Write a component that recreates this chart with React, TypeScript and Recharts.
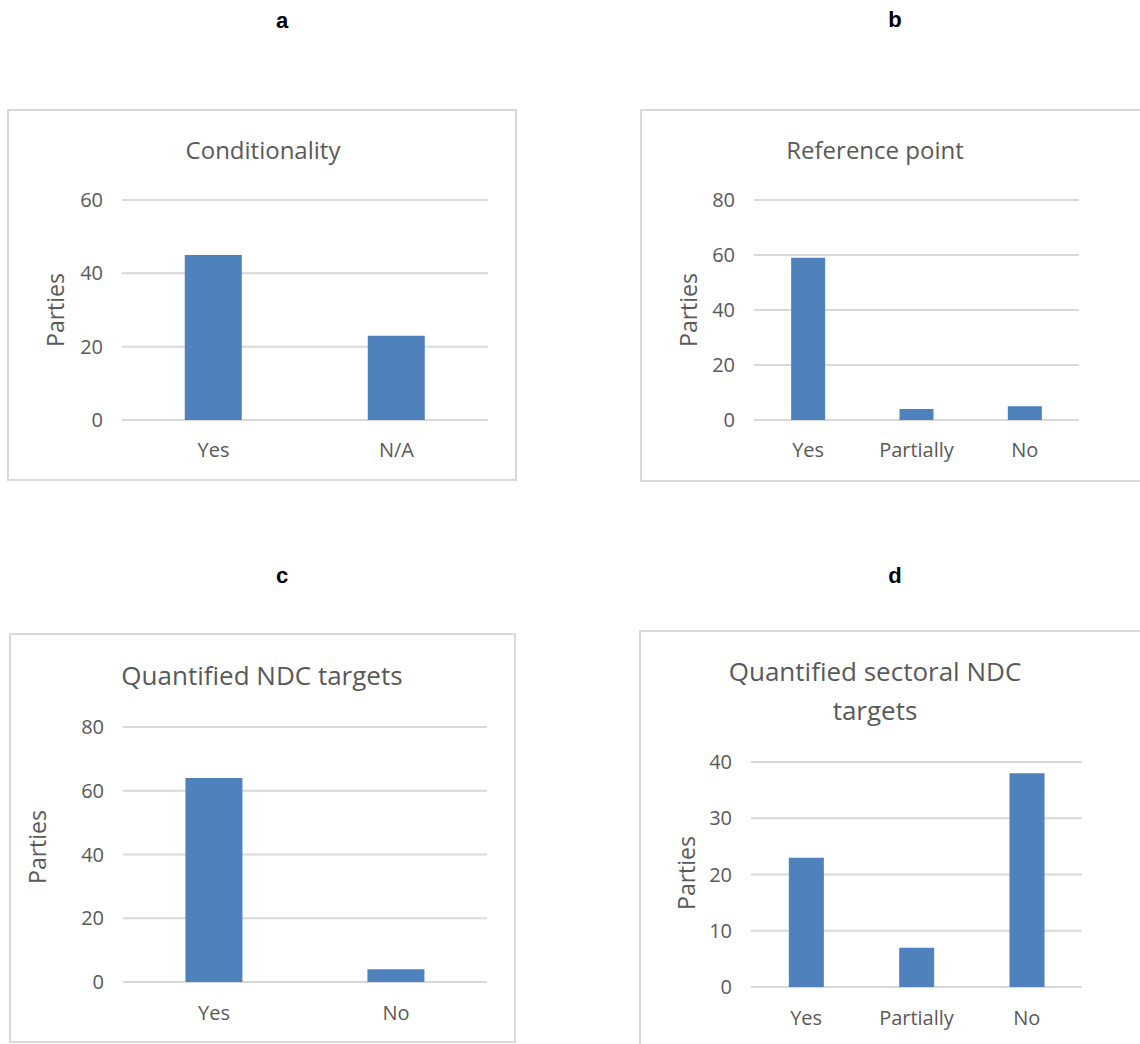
import React from "react";
import { BarChart, Bar, XAxis, YAxis, CartesianGrid } from "recharts";

// panel a
const condCats = ["Yes", "N/A"];
const condVals = [45, 23];
const condTicks = [0, 20, 40, 60];

// panel b
const refCats = ["Yes", "Partially", "No"];
const refVals = [59, 4, 5];
const refTicks = [0, 20, 40, 60, 80];

// panel c
const ndcCats = ["Yes", "No"];
const ndcVals = [64, 4];
const ndcTicks = [0, 20, 40, 60, 80];

// panel d
const secCats = ["Yes", "Partially", "No"];
const secVals = [23, 7, 38];
const secTicks = [0, 10, 20, 30, 40];

const BLUE = "#4f81bd";
const GRID = "#d9d9d9";
const TEXT = "#595959";
const FONT = "'Open Sans', 'Noto Sans', sans-serif";
const TICK = 20;

const YW = 80;
const XH = 50;
const TOPPAD = 22;

type Plot = { x1: number; x2: number; y1: number; y2: number };

function Centered({
  x,
  y,
  size,
  children,
  style,
}: {
  x: number;
  y: number;
  size: number;
  children: React.ReactNode;
  style?: React.CSSProperties;
}) {
  return (
    <div
      style={{
        position: "absolute",
        left: x,
        top: y,
        transform: "translate(-50%, -50%)",
        fontSize: size,
        lineHeight: 1,
        whiteSpace: "nowrap",
        fontFamily: FONT,
        color: TEXT,
        ...style,
      }}
    >
      {children}
    </div>
  );
}

function Panel({
  cats,
  vals,
  ticks,
  plot,
  xMargin,
}: {
  cats: string[];
  vals: number[];
  ticks: number[];
  plot: Plot;
  xMargin: number;
}) {
  const data = cats.map((c, i) => ({ name: c, value: vals[i] }));
  const width = plot.x2 - plot.x1 + YW + 4;
  const height = plot.y2 - plot.y1 + TOPPAD + XH;
  return (
    <div
      style={{
        position: "absolute",
        left: plot.x1 - YW,
        top: plot.y1 - TOPPAD,
      }}
    >
      <BarChart
        width={width}
        height={height}
        data={data}
        margin={{ top: TOPPAD, right: 4, left: 0, bottom: 0 }}
        barCategoryGap="34.3%"
      >
        <CartesianGrid vertical={false} stroke={GRID} strokeWidth={2} />
        <XAxis
          dataKey="name"
          height={XH}
          axisLine={false}
          tickLine={false}
          tickSize={0}
          tickMargin={xMargin}
          tick={{ fill: TEXT, fontSize: TICK, fontFamily: FONT }}
        />
        <YAxis
          width={YW}
          domain={[ticks[0], ticks[ticks.length - 1]]}
          ticks={ticks}
          axisLine={false}
          tickLine={false}
          tickSize={0}
          tickMargin={19}
          tick={{ fill: TEXT, fontSize: TICK, fontFamily: FONT }}
        />
        <Bar dataKey="value" fill={BLUE} isAnimationActive={false} />
      </BarChart>
    </div>
  );
}

const boxStyle: React.CSSProperties = {
  position: "absolute",
  border: `2px solid ${GRID}`,
  boxSizing: "border-box",
  background: "#fff",
};

const rotated: React.CSSProperties = { transform: "translate(-50%, -50%) rotate(-90deg)" };

export default function App() {
  const letter: React.CSSProperties = {
    fontFamily: "'Liberation Sans', Arial, sans-serif",
    fontWeight: "bold",
    color: "#000",
  };
  return (
    <div
      style={{
        position: "absolute",
        left: 0,
        top: 0,
        width: 1140,
        height: 1044,
        overflow: "hidden",
        background: "#fff",
      }}
    >
      {/* panel letters */}
      <Centered x={282} y={21} size={22} style={letter}>a</Centered>
      <Centered x={895} y={20} size={22} style={letter}>b</Centered>
      <Centered x={282} y={576} size={22} style={letter}>c</Centered>
      <Centered x={895} y={576} size={22} style={letter}>d</Centered>

      {/* a */}
      <div style={{ ...boxStyle, left: 7, top: 109, width: 510, height: 372 }} />
      <Centered x={263} y={150} size={24}>Conditionality</Centered>
      <Centered x={55} y={310} size={23} style={rotated}>Parties</Centered>
      <Panel cats={condCats} vals={condVals} ticks={condTicks} plot={{ x1: 122, x2: 488, y1: 200, y2: 420 }} xMargin={23} />

      {/* b */}
      <div style={{ ...boxStyle, left: 640, top: 109, width: 520, height: 373 }} />
      <Centered x={875} y={150} size={24}>Reference point</Centered>
      <Centered x={688} y={310} size={23} style={rotated}>Parties</Centered>
      <Panel cats={refCats} vals={refVals} ticks={refTicks} plot={{ x1: 754, x2: 1079, y1: 200, y2: 420 }} xMargin={23} />

      {/* c */}
      <div style={{ ...boxStyle, left: 9, top: 633, width: 507, height: 410 }} />
      <Centered x={262} y={675} size={26}>Quantified NDC targets</Centered>
      <Centered x={37} y={847} size={23} style={rotated}>Parties</Centered>
      <Panel cats={ndcCats} vals={ndcVals} ticks={ndcTicks} plot={{ x1: 123, x2: 487, y1: 727, y2: 982 }} xMargin={24} />

      {/* d */}
      <div style={{ ...boxStyle, left: 639, top: 630, width: 520, height: 430 }} />
      <div
        style={{
          position: "absolute",
          left: 875,
          top: 691,
          transform: "translate(-50%, -50%)",
          fontSize: 26,
          lineHeight: "39px",
          textAlign: "center",
          whiteSpace: "nowrap",
          fontFamily: FONT,
          color: TEXT,
        }}
      >
        Quantified sectoral NDC
        <br />
        targets
      </div>
      <Centered x={686} y={873} size={23} style={rotated}>Parties</Centered>
      <Panel cats={secCats} vals={secVals} ticks={secTicks} plot={{ x1: 751, x2: 1082, y1: 762, y2: 987 }} xMargin={24} />
    </div>
  );
}
